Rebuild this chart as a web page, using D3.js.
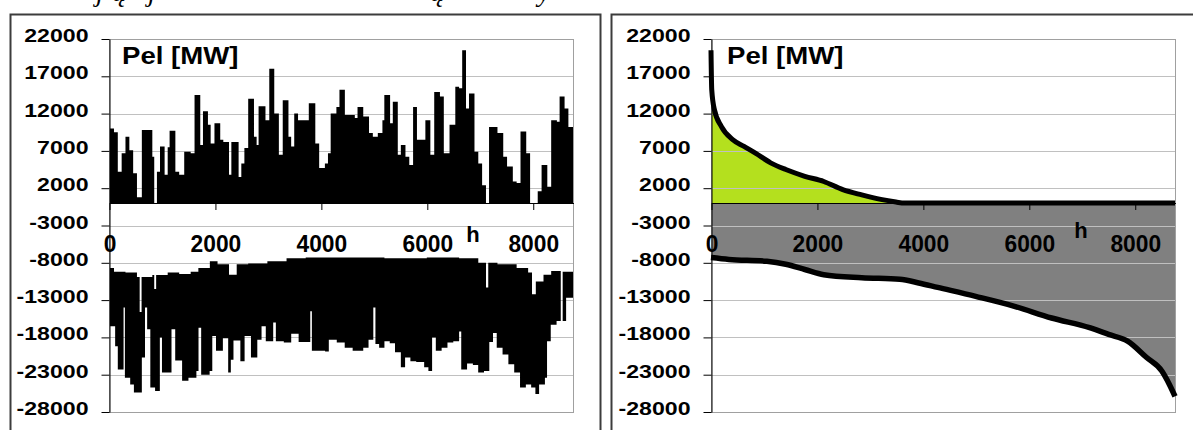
<!DOCTYPE html>
<html>
<head>
<meta charset="utf-8">
<script src="https://cdn.jsdelivr.net/npm/d3@7"></script>
<style>
  body { margin: 0; background: #fff; }
  text { font-family: "Liberation Sans", Arial, sans-serif; font-weight: bold; }
</style>
</head>
<body>
<script>
// ---- data ----
const yTicks = [22000, 17000, 12000, 7000, 2000, -3000, -8000, -13000, -18000, -23000, -28000]
const xTicks = [0, 2000, 4000, 6000, 8000]
const titleText = 'Pel [MW]'
const xName = 'h'

// left chart: hourly power, positive part (step blocks)
const posHours = [0, 94, 166, 239, 311, 384, 456, 528, 620, 818, 854, 905, 963, 1050, 1108, 1144, 1253, 1325, 1420, 1542, 1615, 1723, 1774, 1868, 1919, 1991, 2100, 2158, 2266, 2310, 2447, 2498, 2556, 2628, 2737, 2787, 2824, 2954, 3026, 3120, 3207, 3280, 3388, 3439, 3497, 3569, 3772, 3895, 3968, 4076, 4134, 4185, 4293, 4351, 4453, 4641, 4692, 4800, 4909, 4981, 5075, 5162, 5198, 5307, 5358, 5452, 5510, 5597, 5669, 5741, 5814, 5973, 6067, 6140, 6248, 6321, 6429, 6538, 6610, 6668, 6740, 6797, 6900, 6972, 7044, 7117, 7175, 7334, 7443, 7515, 7624, 7696, 7769, 7877, 7950, 8094, 8167, 8275, 8348, 8456, 8507, 8601, 8673, 8760]
const posValues = [10000, 9500, 4200, 6700, 8900, 7100, 4000, 800, 9800, 6200, 0, 4200, 7600, 3800, 7500, 9700, 4200, 3800, 6900, 6700, 14500, 7800, 12300, 10500, 8000, 10700, 8500, 8200, 3800, 8200, 3500, 5300, 7400, 14000, 8900, 7800, 13000, 11100, 18000, 12000, 6500, 13800, 8900, 7600, 12000, 11100, 13400, 8000, 4700, 5300, 6700, 12000, 12900, 15200, 11800, 11400, 12900, 11600, 9400, 8900, 9400, 11100, 14500, 10700, 13600, 6500, 7800, 6200, 5100, 12900, 8500, 11100, 6500, 14900, 14300, 6700, 10500, 15600, 15400, 20500, 12700, 14700, 6900, 5300, 2400, 0, 10200, 9400, 6200, 4900, 2900, 2700, 9600, 6700, 0, 1600, 5100, 2200, 11100, 10900, 14300, 12700, 10200, 10200]

// left chart: negative part, upper edge of the band
const negTopHours = [0, 94, 311, 528, 579, 615, 818, 854, 890, 1108, 1325, 1542, 1687, 1904, 2049, 2266, 2411, 2628, 2990, 3352, 3714, 4438, 5200, 6000, 6610, 6972, 7117, 7160, 7334, 7696, 7913, 7986, 8058, 8203, 8348, 8529, 8565, 8760]
const negTopValues = [-8700, -9200, -9300, -9900, -14600, -9900, -9650, -11500, -9650, -9300, -9500, -9200, -8700, -7800, -8200, -9600, -8200, -8100, -7800, -7400, -7300, -7300, -7400, -7300, -7400, -8000, -11300, -8000, -8200, -8700, -9300, -12200, -10500, -9600, -9100, -16500, -9200, -9300]

// left chart: negative part, lower edge of the band
const negLowHours = [0, 116, 166, 275, 300, 400, 470, 620, 680, 720, 780, 870, 960, 1000, 1180, 1250, 1380, 1500, 1650, 1690, 1740, 1900, 1950, 2020, 2150, 2250, 2300, 2350, 2480, 2560, 2680, 2800, 2880, 2960, 3100, 3150, 3300, 3440, 3580, 3800, 3830, 4080, 4150, 4300, 4450, 4600, 4800, 4900, 4990, 5030, 5100, 5200, 5300, 5400, 5510, 5590, 5690, 5800, 5950, 6030, 6100, 6170, 6280, 6390, 6500, 6610, 6650, 6760, 6870, 6970, 7080, 7180, 7250, 7320, 7430, 7540, 7650, 7760, 7870, 7970, 8050, 8120, 8230, 8270, 8340, 8450, 8560, 8630, 8760]
const negLowValues = [-16500, -19200, -22300, -14000, -23400, -24300, -25400, -20700, -14000, -16900, -24700, -25200, -18000, -22700, -16900, -21100, -23800, -23400, -22500, -16700, -23000, -22500, -17800, -19800, -18100, -22700, -21000, -18400, -21200, -17800, -20700, -18300, -16500, -18500, -16000, -18500, -18700, -17500, -18600, -14500, -19800, -19900, -18300, -18700, -19400, -19800, -19400, -18300, -14000, -18900, -19400, -18500, -18800, -20000, -22000, -20700, -21200, -21300, -22000, -22500, -18000, -19800, -19400, -18700, -18500, -17200, -22300, -21500, -21700, -22700, -22500, -18600, -17400, -19400, -20300, -21600, -22700, -24700, -24300, -24700, -25600, -24300, -23400, -18500, -16300, -15800, -15800, -12700, -12700]

// right chart: sorted (duration) curves
const durPosHours = [0, 14, 65, 194, 409, 624, 839, 1126, 1412, 1771, 2129, 2488, 2847, 3205, 3492, 3650, 8760]
const durPosValues = [20500, 15200, 12500, 10300, 8500, 7600, 6700, 5400, 4500, 3600, 2900, 1800, 1100, 500, 150, 0, 0]
const durNegHours = [0, 337, 1054, 1412, 1771, 2129, 2847, 3564, 3922, 4280, 4997, 5714, 6431, 7148, 7507, 7865, 8224, 8511, 8654, 8760]
const durNegValues = [-7300, -7550, -7800, -8200, -8900, -9600, -10000, -10200, -10700, -11300, -12500, -13800, -15400, -16700, -17600, -18500, -20700, -22500, -24300, -25900]

const W = 1193, H = 430
const svg = d3.select('body').append('svg').attr('width', W).attr('height', H)
svg.append('rect').attr('width', W).attr('height', H).attr('fill', '#fff')

// cut-off italic text line from the page above
const bits = [['j', 96], ['ą', 112], ['j', 148], ['ą', 430], ['y', 538]]
svg.selectAll('.bit')
	.data(bits)
	.join('text')
	.attr('class', 'bit')
	.attr('x', (d) => d[1])
	.attr('y', 1)
	.attr('font-size', 28)
	.style('font-family', '"Liberation Serif", serif')
	.style('font-style', 'italic')
	.style('font-weight', 'normal')
	.text((d) => d[0])

function zip(h, v) {
	return h.map((d, i) => [d, v[i]])
}

function drawPanel(frameX, frameW, left, titleX, hX, hY, isDuration) {
	// outer frame
	svg.append('rect')
		.attr('x', frameX)
		.attr('y', 14.5)
		.attr('width', frameW)
		.attr('height', 440)
		.attr('fill', 'none')
		.attr('stroke', '#3c3c3c')
		.attr('stroke-width', 2)

	var x = d3.scaleLinear().domain([0, 8760]).range([left, left + 464])
	var y = d3.scaleLinear().domain([-28000, 22000]).range([412, 39])
	var g = svg.append('g')

	function grid() {
		g.append('g')
			.selectAll('line')
			.data(yTicks.slice(1, -1))
			.join('line')
			.attr('x1', x(0))
			.attr('x2', x(8760))
			.attr('y1', (d) => Math.round(y(d)) + 0.5)
			.attr('y2', (d) => Math.round(y(d)) + 0.5)
			.attr('stroke', '#c0c0c0')
	}

	if (!isDuration) {
		grid()
		var pos = zip(posHours, posValues)
		g.append('path')
			.datum(pos)
			.attr('fill', '#000')
			.attr('d', d3.area().curve(d3.curveStepAfter).x((d) => x(d[0])).y0(y(0)).y1((d) => y(d[1])))

		// band between the upper and lower edge: clip the lower area by the upper edge
		var clipId = 'negClip'
		g.append('clipPath')
			.attr('id', clipId)
			.append('path')
			.datum(zip(negTopHours, negTopValues))
			.attr('d', d3.area().curve(d3.curveStepAfter).x((d) => x(d[0])).y0(y(-28000) + 10).y1((d) => y(d[1])))
		g.append('path')
			.datum(zip(negLowHours, negLowValues))
			.attr('clip-path', 'url(#' + clipId + ')')
			.attr('fill', '#000')
			.attr('d', d3.area().curve(d3.curveStepAfter).x((d) => x(d[0])).y0(y(0)).y1((d) => y(d[1])))
	} else {
		var dp = zip(durPosHours, durPosValues)
		var dn = zip(durNegHours, durNegValues)
		g.append('path')
			.datum(dn)
			.attr('fill', '#808080')
			.attr('d', d3.area().curve(d3.curveMonotoneX).x((d) => x(d[0])).y0(y(0)).y1((d) => y(d[1])))
		g.append('path')
			.datum(dp)
			.attr('fill', '#b4e01e')
			.attr('d', d3.area().curve(d3.curveMonotoneX).x((d) => x(d[0])).y0(y(0)).y1((d) => y(d[1])))
		grid()
	}

	// plot border
	g.append('rect')
		.attr('x', x(0) + 0.5)
		.attr('y', y(22000) + 0.5)
		.attr('width', x(8760) - x(0))
		.attr('height', y(-28000) - y(22000))
		.attr('fill', 'none')
		.attr('stroke', '#a0a0a0')

	// x axis at zero
	var xAxis = g.append('g')
		.attr('transform', 'translate(0.5,' + Math.round(y(0)) + ')')
		.call(d3.axisBottom(x).tickValues(xTicks).tickSize(7).tickSizeOuter(0).tickFormat((d) => String(d)))
		.attr('font-size', null)
		.attr('font-family', null)
	xAxis.select('.domain').attr('stroke', '#000')
	xAxis.selectAll('line').attr('stroke', '#000')
	xAxis.selectAll('text')
		.attr('y', 0)
		.attr('dy', null)
		.attr('fill', '#000')
		.attr('font-size', 24)
		.attr('transform', 'translate(0,' + (252 - Math.round(y(0))) + ') scale(0.95,1)')

	if (isDuration) {
		var line = d3.line().curve(d3.curveMonotoneX).x((d) => x(d[0])).y((d) => y(d[1]))
		g.append('path').datum(dn).attr('fill', 'none').attr('stroke', '#000').attr('stroke-width', 5.5).attr('d', line)
		g.append('path').datum(dp).attr('fill', 'none').attr('stroke', '#000').attr('stroke-width', 5).attr('d', line)
	}

	// y axis
	var yAxis = g.append('g')
		.attr('transform', 'translate(' + (x(0) + 0.5) + ',0)')
		.call(d3.axisLeft(y).tickValues(yTicks).tickSize(8).tickSizeOuter(0).tickFormat((d) => String(d)))
		.attr('font-size', null)
		.attr('font-family', null)
	yAxis.select('.domain').attr('stroke', '#000')
	yAxis.selectAll('line').attr('stroke', '#000')
	yAxis.selectAll('text')
		.attr('x', 0)
		.attr('dy', null)
		.attr('fill', '#000')
		.attr('font-size', 18.5)
		.attr('transform', 'translate(-21,2.5) scale(1.25,1)')

	// title and axis name
	g.append('text')
		.attr('transform', 'translate(' + titleX + ',63.5) scale(1.15,1)')
		.attr('font-size', 24)
		.text(titleText)
	g.append('text')
		.attr('x', hX)
		.attr('y', hY)
		.attr('text-anchor', 'middle')
		.attr('font-size', 22)
		.text(xName)
}

drawPanel(10.5, 590, 109, 122, 473, 242, false)
drawPanel(611.5, 600, 711, 727, 1081, 238, true)
</script>
</body>
</html>
